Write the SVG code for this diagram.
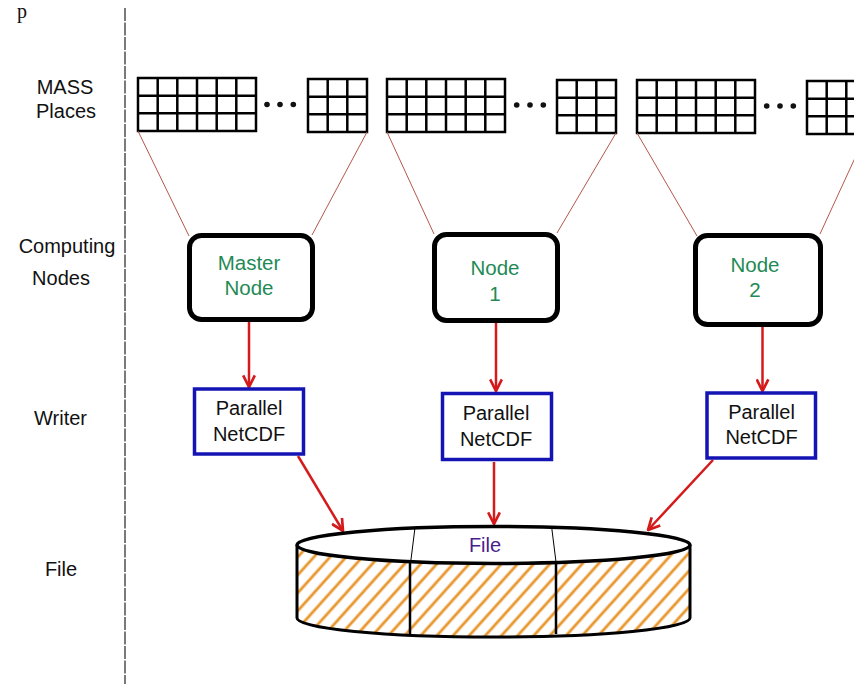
<svg xmlns="http://www.w3.org/2000/svg" width="854" height="684" viewBox="0 0 854 684">
<style>
.lbl{font-family:"Liberation Sans",Arial,sans-serif;font-size:20px;fill:#111;text-anchor:middle}
.ntx{font-family:"Liberation Sans",Arial,sans-serif;font-size:20.5px;fill:#1f8a55;text-anchor:middle}
.wtx{font-family:"Liberation Sans",Arial,sans-serif;font-size:20px;fill:#111;text-anchor:middle}
.node{fill:#fff;stroke:#000;stroke-width:5}
.wr{fill:#fff;stroke:#1414b4;stroke-width:3.5}
.grid{fill:none;stroke:#000;stroke-width:2.5}
.thin{stroke:#b4584a;stroke-width:1;fill:none}
.arr{stroke:#d41a1a;stroke-width:2.5;fill:none;marker-end:url(#ah)}
.dot{fill:#111}
</style>
<defs>
<marker id="ah" viewBox="0 0 12 12" refX="11" refY="6" markerWidth="14" markerHeight="14" markerUnits="userSpaceOnUse" orient="auto">
<path d="M1,1 L11,6 L1,11" fill="none" stroke="#d41a1a" stroke-width="2.3"/>
</marker>
<g id="big">
<rect x="0" y="0" width="118" height="53" class="grid"/>
<path class="grid" d="M19.7,0V53M39.3,0V53M59,0V53M78.7,0V53M98.3,0V53M0,17.7H118M0,35.3H118"/>
</g>
<g id="small">
<rect x="0" y="0" width="59" height="53" class="grid"/>
<path class="grid" d="M19.7,0V53M39.3,0V53M0,17.7H59M0,35.3H59"/>
</g>
<pattern id="hatch" patternUnits="userSpaceOnUse" width="12" height="12" patternTransform="rotate(42)">
<line x1="6" y1="-1" x2="6" y2="13" stroke="#e8962e" stroke-width="2.8"/>
</pattern>
</defs>
<rect width="854" height="684" fill="#fff"/>
<text x="17" y="18" font-family="Liberation Serif,serif" font-size="20" fill="#111">p</text>
<line x1="125" y1="8" x2="125" y2="684" stroke="#333" stroke-width="1.3" stroke-dasharray="13 1.5"/>
<g id="labels">
<text class="lbl" x="65" y="94">MASS</text>
<text class="lbl" x="66" y="118">Places</text>
<text class="lbl" x="67" y="253">Computing</text>
<text class="lbl" x="61" y="285">Nodes</text>
<text class="lbl" x="60.5" y="425">Writer</text>
<text class="lbl" x="61" y="576">File</text>
</g>
<g id="places">
<use href="#big" x="138" y="78"/>
<use href="#small" x="308" y="79"/>
<use href="#big" x="387" y="79"/>
<use href="#small" x="557" y="80"/>
<use href="#big" x="637" y="80"/>
<use href="#small" x="807" y="81"/>
<circle class="dot" cx="267" cy="104.5" r="2.8"/><circle class="dot" cx="280" cy="104.5" r="2.8"/><circle class="dot" cx="293.3" cy="104.5" r="2.8"/>
<circle class="dot" cx="516.7" cy="105" r="2.8"/><circle class="dot" cx="530" cy="105" r="2.8"/><circle class="dot" cx="543.3" cy="105" r="2.8"/>
<circle class="dot" cx="766.7" cy="106" r="2.8"/><circle class="dot" cx="780" cy="106" r="2.8"/><circle class="dot" cx="793.3" cy="106" r="2.8"/>
</g>
<g id="connectors">
<path class="thin" d="M138,131 L189,236 M367,132 L312,235 M387,132 L434,234 M616,133 L557,233 M637,133 L697,236 M866,134 L820,234"/>
<path class="arr" d="M249,322 L249,387"/>
<path class="arr" d="M496,323 L496,391"/>
<path class="arr" d="M762.5,327 L762.5,391"/>
<path class="arr" d="M298,456 L343,531"/>
<path class="arr" d="M494,462 L494,524"/>
<path class="arr" d="M713,460 L648,530"/>
</g>
<g id="master">
<rect class="node" x="189.5" y="235.5" width="123" height="84" rx="12"/>
<text class="ntx" x="249" y="270">Master</text>
<text class="ntx" x="249" y="295">Node</text>
</g>
<g id="node1">
<rect class="node" x="434.5" y="234.5" width="123" height="86" rx="12"/>
<text class="ntx" x="495" y="275">Node</text>
<text class="ntx" x="495" y="301">1</text>
</g>
<g id="node2">
<rect class="node" x="695.5" y="235.5" width="125" height="89" rx="12"/>
<text class="ntx" x="755" y="272">Node</text>
<text class="ntx" x="755" y="297">2</text>
</g>
<g id="writer0">
<rect class="wr" x="194.5" y="389" width="109" height="65"/>
<text class="wtx" x="249" y="415">Parallel</text>
<text class="wtx" x="249" y="441">NetCDF</text>
</g>
<g id="writer1">
<rect class="wr" x="442.5" y="393.5" width="109" height="66"/>
<text class="wtx" x="496" y="420">Parallel</text>
<text class="wtx" x="496" y="446">NetCDF</text>
</g>
<g id="writer2">
<rect class="wr" x="707" y="393" width="108.5" height="65"/>
<text class="wtx" x="761.5" y="419">Parallel</text>
<text class="wtx" x="761.5" y="444">NetCDF</text>
</g>
<g id="file">
<path d="M297,545 A196.5,18.5 0 0 0 690,545 L690,618 A196.5,19 0 0 1 297,618 Z" fill="url(#hatch)"/>
<path d="M297,545 L297,618 A196.5,19 0 0 0 690,618 L690,545" fill="none" stroke="#000" stroke-width="3"/>
<ellipse cx="493.5" cy="545" rx="196.5" ry="18.5" fill="#fff" stroke="#000" stroke-width="3.5"/>
<path d="M410,562 L410,634 M556,562 L556,634" stroke="#000" stroke-width="2.5"/>
<path d="M415,527.5 L410.7,562 M551.7,527.5 L556,562" stroke="#000" stroke-width="1"/>
<text x="485" y="552" font-family="Liberation Sans,Arial,sans-serif" font-size="20" fill="#4a1d8c" text-anchor="middle">File</text>
</g>
</svg>
